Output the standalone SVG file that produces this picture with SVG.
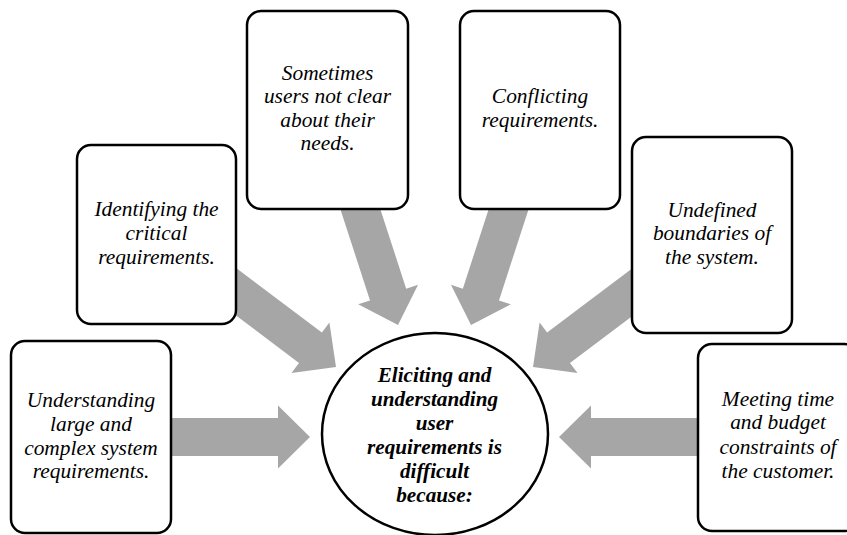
<svg xmlns="http://www.w3.org/2000/svg" width="847" height="535" viewBox="0 0 847 535">
<style>
.box{fill:#ffffff;stroke:#000000;stroke-width:2.5}
.arr{fill:#a6a6a6;stroke:none}
</style>
<defs>
<path id="arrow" d="M -160,-19 L -32,-19 L -32,-31.5 L 0,0 L -32,31.5 L -32,19 L -160,19 Z"/>
</defs>
<rect width="847" height="535" fill="#ffffff"/>
<g id="arrows" class="arr">
<use href="#arrow" transform="translate(310,437)"/>
<use href="#arrow" transform="translate(336,367) rotate(37)"/>
<use href="#arrow" transform="translate(398,325) rotate(72)"/>
<use href="#arrow" transform="translate(471,325) rotate(108)"/>
<use href="#arrow" transform="translate(533,367) rotate(143)"/>
<use href="#arrow" transform="translate(559,437) rotate(180)"/>
</g>
<g id="understanding">
<rect class="box" x="11" y="341" width="160" height="192" rx="14"/>
<text x="91" y="407" font-size="21.4" font-style="italic" font-family="'Liberation Serif'" text-anchor="middle">Understanding</text>
<text x="91" y="431" font-size="21.4" font-style="italic" font-family="'Liberation Serif'" text-anchor="middle">large and</text>
<text x="91" y="455" font-size="21.4" font-style="italic" font-family="'Liberation Serif'" text-anchor="middle">complex system</text>
<text x="91" y="478" font-size="21.4" font-style="italic" font-family="'Liberation Serif'" text-anchor="middle">requirements.</text>
</g>
<g id="identifying">
<rect class="box" x="77" y="145" width="159" height="179" rx="14"/>
<text x="156.5" y="216" font-size="21.4" font-style="italic" font-family="'Liberation Serif'" text-anchor="middle">Identifying the</text>
<text x="156.5" y="240" font-size="21.4" font-style="italic" font-family="'Liberation Serif'" text-anchor="middle">critical</text>
<text x="156.5" y="264" font-size="21.4" font-style="italic" font-family="'Liberation Serif'" text-anchor="middle">requirements.</text>
</g>
<g id="sometimes">
<rect class="box" x="247" y="11" width="161" height="198" rx="14"/>
<text x="327.5" y="80" font-size="21.4" font-style="italic" font-family="'Liberation Serif'" text-anchor="middle">Sometimes</text>
<text x="327.5" y="103" font-size="21.4" font-style="italic" font-family="'Liberation Serif'" text-anchor="middle">users not clear</text>
<text x="327.5" y="127" font-size="21.4" font-style="italic" font-family="'Liberation Serif'" text-anchor="middle">about their</text>
<text x="327.5" y="150" font-size="21.4" font-style="italic" font-family="'Liberation Serif'" text-anchor="middle">needs.</text>
</g>
<g id="conflicting">
<rect class="box" x="460" y="11" width="160" height="198" rx="14"/>
<text x="540" y="103" font-size="21.4" font-style="italic" font-family="'Liberation Serif'" text-anchor="middle">Conflicting</text>
<text x="540" y="127" font-size="21.4" font-style="italic" font-family="'Liberation Serif'" text-anchor="middle">requirements.</text>
</g>
<g id="undefined">
<rect class="box" x="632" y="137" width="160" height="196" rx="14"/>
<text x="712" y="217" font-size="21.4" font-style="italic" font-family="'Liberation Serif'" text-anchor="middle">Undefined</text>
<text x="712" y="240" font-size="21.4" font-style="italic" font-family="'Liberation Serif'" text-anchor="middle">boundaries of</text>
<text x="712" y="264" font-size="21.4" font-style="italic" font-family="'Liberation Serif'" text-anchor="middle">the system.</text>
</g>
<g id="meeting">
<rect class="box" x="698" y="344" width="160" height="187" rx="14"/>
<text x="778" y="406" font-size="21.4" font-style="italic" font-family="'Liberation Serif'" text-anchor="middle">Meeting time</text>
<text x="778" y="429" font-size="21.4" font-style="italic" font-family="'Liberation Serif'" text-anchor="middle">and budget</text>
<text x="778" y="454" font-size="21.4" font-style="italic" font-family="'Liberation Serif'" text-anchor="middle">constraints of</text>
<text x="778" y="478" font-size="21.4" font-style="italic" font-family="'Liberation Serif'" text-anchor="middle">the customer.</text>
</g>
<g id="center">
<ellipse class="box" cx="435" cy="434" rx="113" ry="101"/>
<text x="434.5" y="382" font-size="21.2" font-style="italic" font-weight="bold" font-family="'Liberation Serif'" text-anchor="middle">Eliciting and</text>
<text x="434.5" y="406" font-size="21.2" font-style="italic" font-weight="bold" font-family="'Liberation Serif'" text-anchor="middle">understanding</text>
<text x="434.5" y="430" font-size="21.2" font-style="italic" font-weight="bold" font-family="'Liberation Serif'" text-anchor="middle">user</text>
<text x="434.5" y="454" font-size="21.2" font-style="italic" font-weight="bold" font-family="'Liberation Serif'" text-anchor="middle">requirements is</text>
<text x="434.5" y="478" font-size="21.2" font-style="italic" font-weight="bold" font-family="'Liberation Serif'" text-anchor="middle">difficult</text>
<text x="434.5" y="502" font-size="21.2" font-style="italic" font-weight="bold" font-family="'Liberation Serif'" text-anchor="middle">because:</text>
</g>
</svg>
